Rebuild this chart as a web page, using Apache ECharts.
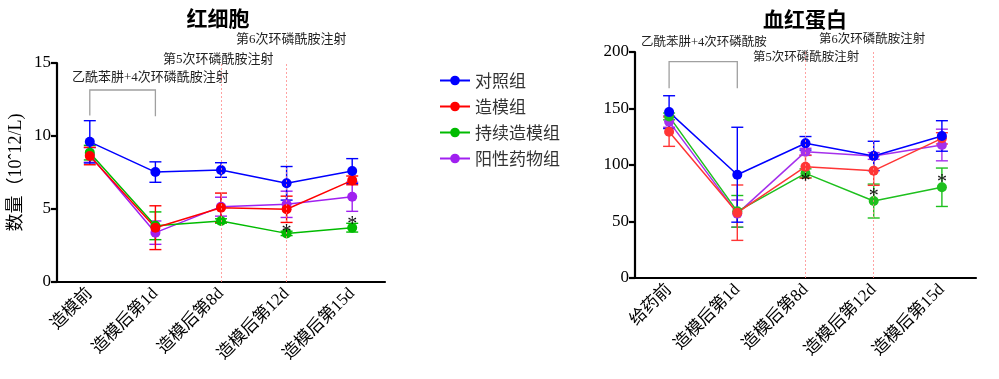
<!DOCTYPE html>
<html><head><meta charset="utf-8">
<script src="https://cdn.jsdelivr.net/npm/echarts@6/dist/echarts.min.js"></script>
<style>html,body{margin:0;padding:0;background:#fff}#c{width:999px;height:379px}</style>
</head><body><div id="c"></div>
<script>
const groupNames = ['对照组','造模组','持续造模组','阳性药物组'];
const rbcCategories = ['造模前','造模后第1d','造模后第8d','造模后第12d','造模后第15d'];
const hgbCategories = ['给药前','造模后第1d','造模后第8d','造模后第12d','造模后第15d'];
const rbcTicks = [0,5,10,15];
const hgbTicks = [0,50,100,150,200];

const rbcControl = [9.6, 7.53, 7.67, 6.76, 7.6];
const rbcControlErr = [1.45, 0.7, 0.5, 1.15, 0.85];
const rbcModel = [8.63, 3.72, 5.09, 4.98, 6.96];
const rbcModelErr = [0.6, 1.5, 1.0, 0.9, 0.3];
const rbcCont = [8.86, 3.85, 4.18, 3.33, 3.72];
const rbcContErr = [0.5, 0.95, 0.15, 0.15, 0.3];
const rbcPos = [8.7, 3.38, 5.16, 5.32, 5.84];
const rbcPosErr = [0.5, 0.8, 0.65, 0.9, 1.0];

const hgbControl = [146.8, 91.4, 119.2, 108, 125.7];
const hgbControlErr = [14.5, 42, 6, 13, 13.5];
const hgbModel = [129.5, 57.8, 98.5, 95, 123.6];
const hgbModelErr = [13, 24.5, 10, 13, 5];
const hgbCont = [143, 59, 92.6, 68.1, 80.3];
const hgbContErr = [3, 14, 4, 15, 17];
const hgbPos = [138.4, 57, 111.8, 108, 117.7];
const hgbPosErr = [5, 12, 3, 3, 14];

const rbcStars = [[3, 3.63], [4, 4.2]];
const hgbStars = [[1.93, 88.5], [3, 75.2], [4, 87.6]];
const rbcBracket = [[0, 11.4], [0, 13.15], [1, 13.15], [1, 11.35]];
const hgbBracket = [[0, 167.9], [0, 191.4], [1, 191.4], [1, 167.9]];
const rbcInjectionDays = [2, 3];
const hgbInjectionDays = [2, 3];

const serif = "'Liberation Serif','Noto Sans CJK SC'";
const cjk = "'Noto Sans CJK SC'";
const colorsL = ['#0000FF', '#FF0000', '#00BB00', '#A020F0'];
const colorsR = ['#0000FF', '#FF3535', '#1EC01E', '#A530EC'];

const chart = echarts.init(document.getElementById('c'), null, {renderer: 'canvas'});

function errSeries(vals, errs, color, gi) {
  return {
    type: 'custom', xAxisIndex: gi, yAxisIndex: gi, z: 3, silent: true,
    data: vals.map((v, i) => [i, v, errs[i]]),
    renderItem: function (params, api) {
      const x = api.value(0), y = api.value(1), e = api.value(2);
      const t = api.coord([x, y + e]), b = api.coord([x, y - e]);
      const w = 6;
      const st = {stroke: color, lineWidth: 1.4};
      return {type: 'group', children: [
        {type: 'line', shape: {x1: t[0], y1: t[1], x2: b[0], y2: b[1]}, style: st},
        {type: 'line', shape: {x1: t[0] - w, y1: t[1], x2: t[0] + w, y2: t[1]}, style: st},
        {type: 'line', shape: {x1: b[0] - w, y1: b[1], x2: b[0] + w, y2: b[1]}, style: st}
      ]};
    }
  };
}
function lineSeries(name, vals, color, gi, markLine) {
  const s = {
    name: name, type: 'line', xAxisIndex: gi, yAxisIndex: gi, data: vals, z: 4,
    symbol: 'circle', symbolSize: 10, lineStyle: {color: color, width: 1.5},
    itemStyle: {color: color}, emphasis: {disabled: true}
  };
  if (markLine) s.markLine = markLine;
  return s;
}
function starSeries(stars, gi) {
  return {
    type: 'custom', xAxisIndex: gi, yAxisIndex: gi, z: 6, silent: true, data: stars,
    renderItem: function (params, api) {
      const p = api.coord([api.value(0), api.value(1)]);
      return {type: 'text', x: p[0], y: p[1] + 4, style: {text: '*', fill: '#111', font: "20px " + serif, align: 'center', verticalAlign: 'middle'}};
    }
  };
}
function bracketSeries(pts, gi) {
  return {
    type: 'custom', xAxisIndex: gi, yAxisIndex: gi, z: 2, silent: true,
    data: [0],
    renderItem: function (params, api) {
      const pp = pts.map(p => api.coord(p));
      return {type: 'polyline', shape: {points: pp}, style: {stroke: '#A0A0A0', lineWidth: 1.3, fill: null}};
    }
  };
}
function injMark(days) {
  return {
    silent: true, symbol: 'none', label: {show: false},
    lineStyle: {color: '#FF8A8A', type: [2, 2], width: 0.8},
    data: days.map(d => ({xAxis: d}))
  };
}
function xAxisCfg(cats, gi) {
  return {
    type: 'category', gridIndex: gi, data: cats, boundaryGap: true,
    axisLine: {lineStyle: {color: '#000', width: 2.2}},
    axisTick: {alignWithLabel: true, length: 7, lineStyle: {width: 2.2, color: '#000'}},
    axisLabel: {rotate: 45, interval: 0, margin: 9, color: '#000', fontSize: 17, fontFamily: serif}
  };
}
function yAxisCfg(ticks, gi, name) {
  const iv = ticks[1] - ticks[0];
  return {
    type: 'value', gridIndex: gi, min: ticks[0], max: ticks[ticks.length - 1], interval: iv,
    name: name || '', nameLocation: 'middle', nameGap: 32, nameRotate: 90,
    nameTextStyle: {fontSize: 18, color: '#000', fontFamily: serif},
    axisLine: {show: true, lineStyle: {color: '#000', width: 2.2}},
    axisTick: {show: true, length: 6, lineStyle: {width: 2.2, color: '#000'}},
    splitLine: {show: false},
    axisLabel: {color: '#000', fontSize: 17, fontFamily: serif, margin: 6}
  };
}

const rbcVals = [rbcControl, rbcModel, rbcCont, rbcPos];
const rbcErrs = [rbcControlErr, rbcModelErr, rbcContErr, rbcPosErr];
const hgbVals = [hgbControl, hgbModel, hgbCont, hgbPos];
const hgbErrs = [hgbControlErr, hgbModelErr, hgbContErr, hgbPosErr];
const drawOrder = [3, 2, 1, 0];

const series = [];
drawOrder.forEach((k, j) => {
  series.push(lineSeries(groupNames[k], rbcVals[k], colorsL[k], 0, j === 0 ? injMark(rbcInjectionDays) : null));
  series.push(lineSeries(groupNames[k], hgbVals[k], colorsR[k], 1, j === 0 ? injMark(hgbInjectionDays) : null));
});
drawOrder.forEach(k => {
  series.push(errSeries(rbcVals[k], rbcErrs[k], colorsL[k], 0));
  series.push(errSeries(hgbVals[k], hgbErrs[k], colorsR[k], 1));
});
series.push(starSeries(rbcStars, 0), starSeries(hgbStars, 1));
series.push(bracketSeries(rbcBracket, 0), bracketSeries(hgbBracket, 1));

function txt(x, y, s, size, opts) {
  return Object.assign({type: 'text', x: x, y: y, style: {text: s, fill: '#222', font: size + "px " + serif, verticalAlign: 'middle'}}, opts || {});
}

chart.setOption({
  animation: false,
  backgroundColor: '#fff',
  grid: [
    {left: 57, top: 63, width: 328, height: 219},
    {left: 635, top: 52, width: 341, height: 226}
  ],
  xAxis: [xAxisCfg(rbcCategories, 0), xAxisCfg(hgbCategories, 1)],
  yAxis: [yAxisCfg(rbcTicks, 0, '数量（10ˆ12/L)'), yAxisCfg(hgbTicks, 1)],
  legend: {
    data: groupNames, orient: 'vertical', left: 434, top: 67,
    itemWidth: 30, itemHeight: 12, itemGap: 9,
    textStyle: {fontSize: 17, color: '#333', fontFamily: cjk}
  },
  graphic: [
    {type: 'text', x: 218, y: 18, style: {text: '红细胞', fill: '#000', font: "bold 21px " + cjk, align: 'center', verticalAlign: 'middle'}},
    {type: 'text', x: 805, y: 19, style: {text: '血红蛋白', fill: '#000', font: "bold 21px " + cjk, align: 'center', verticalAlign: 'middle'}},
    txt(72, 78, '乙酰苯肼+4次环磷酰胺注射', 13),
    txt(163, 60, '第5次环磷酰胺注射', 13),
    txt(236, 40, '第6次环磷酰胺注射', 13),
    txt(641, 43, '乙酰苯肼+4次环磷酰胺', 12.5),
    txt(753, 58, '第5次环磷酰胺注射', 12.5),
    txt(819, 40, '第6次环磷酰胺注射', 12.5)
  ],
  series: series
});
</script></body></html>
